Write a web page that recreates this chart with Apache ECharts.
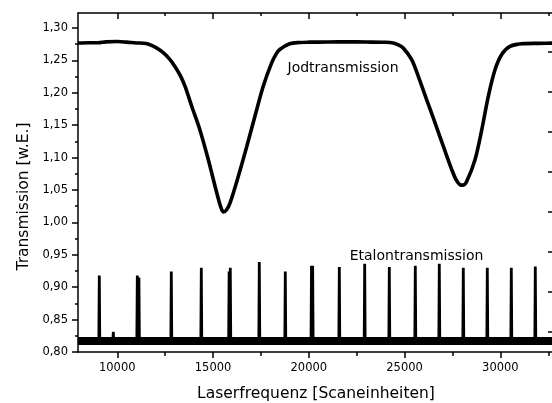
<!DOCTYPE html>
<html>
<head>
<meta charset="utf-8">
<script src="https://cdn.jsdelivr.net/npm/echarts@6/dist/echarts.min.js"></script>
<style>
	html,body{margin:0;padding:0;background:#fff}
	#chart{width:552px;height:403px}
</style>
</head>
<body>
<div id="chart"></div>
<script>
var jodX = [7950,8500,9000,9400,10000,10500,11000,11500,12000,12400,12700,13000,13300,13550,13900,14300,14750,15190,15400,15540,15700,15890,16320,16760,17190,17620,18060,18300,18500,19000,19500,20000,21000,22000,23000,24000,24400,24700,24930,25370,25720,26150,26590,27020,27460,27700,27900,28050,28240,28680,29030,29370,29720,30070,30500,31200,32000,32800]
var jodY = [1.2768,1.2772,1.2770,1.2785,1.2790,1.2780,1.2768,1.2760,1.2700,1.2620,1.2530,1.2410,1.2260,1.2090,1.1780,1.1440,1.0970,1.0460,1.0240,1.0160,1.0190,1.0300,1.0710,1.1170,1.1640,1.2100,1.2460,1.2600,1.2670,1.2755,1.2775,1.2780,1.2782,1.2785,1.2782,1.2778,1.2768,1.2735,1.2690,1.2510,1.2250,1.1895,1.1535,1.1175,1.0815,1.0650,1.0580,1.0575,1.0630,1.0970,1.1430,1.1945,1.2355,1.2590,1.2715,1.2758,1.2762,1.2765]

var etalonPeakX = [9062,9793,11046,11130,12821,14387,15840,15900,17415,18772,20140,20200,21592,22917,24202,25559,26812,28065,29318,30571,31824]
var etalonPeakY = [0.918,0.831,0.918,0.915,0.924,0.930,0.924,0.930,0.939,0.924,0.933,0.933,0.931,0.936,0.931,0.933,0.936,0.930,0.930,0.930,0.932]
var etalonBase = 0.817
var etalonHalfWidth = 25

var xRange = [7950,32800]
var yRange = [0.80,1.323]
var xMajor = [10000,15000,20000,25000,30000]
var xMinor = [12500,17500,22500,27500,32500]
var yMajor = [0.80,0.85,0.90,0.95,1.00,1.05,1.10,1.15,1.20,1.25,1.30]
var yMinor = [0.825,0.875,0.925,0.975,1.025,1.075,1.125,1.175,1.225,1.275]
var rightTicks = [0.5,1.5,2.5,3.5,4.5,5.5,6.5,7.5]
var rightRange = [0,8.475]

var labelNames = ['Jodtransmission','Etalontransmission']
var labelCoords = [[21785,1.2377],[25622,0.9481]]

var jodData = []
for(var i = 0 ; i < jodX.length ; i ++){
	jodData.push([jodX[i],jodY[i]])
}
var etalonData = [[xRange[0],etalonBase]]
for(var i = 0 ; i < etalonPeakX.length ; i ++){
	etalonData.push([etalonPeakX[i] - etalonHalfWidth,etalonBase])
	etalonData.push([etalonPeakX[i],etalonPeakY[i]])
	etalonData.push([etalonPeakX[i] + etalonHalfWidth,etalonBase])
}
etalonData.push([xRange[1],etalonBase])

var font = 'DejaVu Sans'
var black = '#000000'

function comma(v){
	return v.toFixed(2).replace('.',',')
}
function plain(v){
	return String(v)
}
function tickAxis(position,values,len,inside,line){
	var vertical = position == 'left' || position == 'right'
	var range = vertical ? (position == 'right' ? rightRange : yRange) : xRange
	return {
		type:'value',
		position:position,
		min:range[0],
		max:range[1],
		axisLine:{show:line,lineStyle:{color:black,width:1.5}},
		axisTick:{show:true,inside:inside,length:len,customValues:values,lineStyle:{color:black,width:1.5}},
		axisLabel:{show:false},
		splitLine:{show:false}
	}
}

var chart = echarts.init(document.getElementById('chart'))
chart.setOption({
	animation:false,
	backgroundColor:'#ffffff',
	grid:{left:78,top:13,right:-2,bottom:51,containLabel:false,outerBoundsMode:'none'},
	xAxis:[
		{
			type:'value',
			position:'bottom',
			min:xRange[0],
			max:xRange[1],
			name:'Laserfrequenz [Scaneinheiten]',
			nameLocation:'middle',
			nameGap:34,
			nameTextStyle:{fontFamily:font,fontSize:15.5,color:black},
			axisLine:{show:true,lineStyle:{color:black,width:1.5}},
			axisTick:{show:true,length:6,customValues:xMajor,lineStyle:{color:black,width:1.5}},
			axisLabel:{show:true,margin:10,customValues:xMajor,fontFamily:font,fontSize:11.5,color:black,formatter:plain},
			splitLine:{show:false}
		},
		tickAxis('bottom',xMinor,4,false,false),
		tickAxis('top',xMajor,6,true,true),
		tickAxis('top',xMinor,3,true,false)
	],
	yAxis:[
		{
			type:'value',
			position:'left',
			min:yRange[0],
			max:yRange[1],
			name:'Transmission [w.E.]',
			nameLocation:'middle',
			nameGap:43,
			nameTextStyle:{fontFamily:font,fontSize:15.5,color:black,padding:[0,28,0,0]},
			axisLine:{show:true,lineStyle:{color:black,width:1.5}},
			axisTick:{show:true,length:6,customValues:yMajor,lineStyle:{color:black,width:1.5}},
			axisLabel:{show:true,margin:10,customValues:yMajor,fontFamily:font,fontSize:11.5,color:black,formatter:comma},
			splitLine:{show:false}
		},
		tickAxis('right',rightTicks,6,true,true),
		tickAxis('left',yMinor,3,false,false)
	],
	series:[
		{
			type:'line',
			name:'Etalon Grundlinie',
			data:[[xRange[0],etalonBase],[xRange[1],etalonBase]],
			showSymbol:false,
			lineStyle:{color:black,width:8},
			silent:true
		},
		{
			type:'line',
			name:'Etalontransmission',
			data:etalonData,
			showSymbol:false,
			lineStyle:{color:black,width:2.8,join:'bevel'},
			markPoint:{
				symbol:'circle',
				symbolSize:0,
				label:{show:true,position:'inside',formatter:'{b}',fontFamily:font,fontSize:14,color:black},
				data:[{name:labelNames[1],coord:labelCoords[1]}]
			}
		},
		{
			type:'line',
			name:'Jodtransmission',
			data:jodData,
			showSymbol:false,
			smooth:0.3,
			lineStyle:{color:black,width:3.6},
			markPoint:{
				symbol:'circle',
				symbolSize:0,
				label:{show:true,position:'inside',formatter:'{b}',fontFamily:font,fontSize:14,color:black},
				data:[{name:labelNames[0],coord:labelCoords[0]}]
			}
		}
	]
})
</script>
</body>
</html>
